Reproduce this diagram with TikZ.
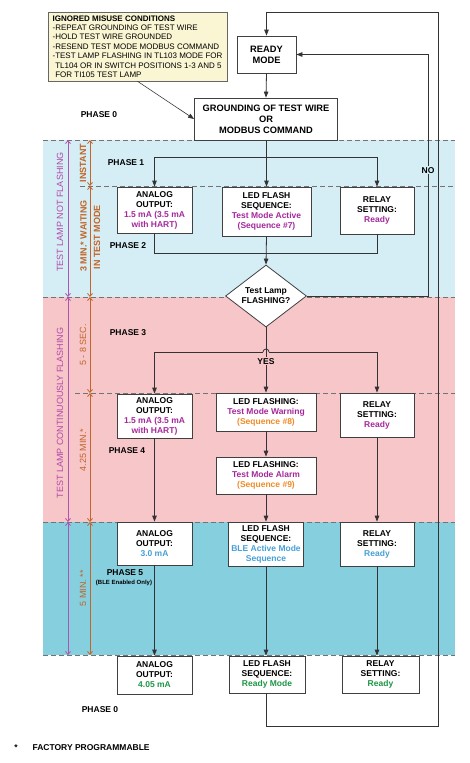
\documentclass[tikz,border=0pt]{standalone}
\usepackage{fontspec}
\setmainfont{Liberation Sans}
\usetikzlibrary{shapes.geometric, arrows.meta, positioning, shadows}

\definecolor{bandblue}{RGB}{213,237,244}
\definecolor{bandpink}{RGB}{247,198,200}
\definecolor{bandteal}{RGB}{134,207,222}
\definecolor{notefill}{RGB}{250,246,212}
\definecolor{magtext}{RGB}{165,40,155}
\definecolor{orgtext}{RGB}{240,140,40}
\definecolor{blutext}{RGB}{70,160,215}
\definecolor{grntext}{RGB}{30,150,70}
\definecolor{dimpurple}{RGB}{175,85,175}
\definecolor{dimorange}{RGB}{195,100,40}

\newcommand{\magtxt}[1]{\textcolor{magtext}{#1}}
\newcommand{\orgtxt}[1]{\textcolor{orgtext}{#1}}
\newcommand{\blutxt}[1]{\textcolor{blutext}{#1}}
\newcommand{\grntxt}[1]{\textcolor{grntext}{#1}}

\begin{document}
\begin{tikzpicture}[
    x=1pt, y=-1pt,
    box/.style={rectangle, draw=black!75, line width=0.8pt, fill=white, align=center, inner sep=1pt, font=\bfseries\fontsize{8.5}{10}\selectfont, drop shadow={shadow xshift=0.8pt, shadow yshift=-0.8pt, opacity=0.35}},
    box_big/.style={box, font=\bfseries\fontsize{9.3}{11}\selectfont},
    decision/.style={diamond, draw=black!75, line width=0.8pt, fill=white, align=center, inner sep=0pt, aspect=1.3, font=\bfseries\fontsize{8.5}{10}\selectfont},
    note/.style={rectangle, draw=black!60, line width=0.6pt, fill=notefill, align=left, inner sep=3pt, font=\fontsize{8}{9.4}\selectfont, drop shadow={shadow xshift=0.8pt, shadow yshift=-0.8pt, opacity=0.35}},
    phase/.style={font=\bfseries\fontsize{8.5}{10}\selectfont},
    link/.style={line width=0.8pt, draw=black!80},
    arrow/.style={link, -{Triangle[length=6pt,width=4.5pt]}},
    sep/.style={dash pattern=on 5pt off 3pt, line width=0.9pt, draw=black!55},
    dim_purple/.style={{Straight Barb[length=3pt,width=5pt]}-{Straight Barb[length=3pt,width=5pt]}, line width=0.8pt, draw=dimpurple},
    dim_orange/.style={dim_purple, draw=dimorange},
    dimtext/.style={rotate=90, font=\fontsize{9}{10}\selectfont}
  ]

  \useasboundingbox (0,0) rectangle (470,763);

  % Phase bands
  \fill[bandblue] (43,140) rectangle (455,297);
  \fill[bandpink] (43,297) rectangle (455,522);
  \fill[bandteal] (43,522) rectangle (455,655);

  % Phase boundaries
  \draw[sep] (43,140) -- (455,140);
  \draw[sep] (80,186) -- (455,186);
  \draw[sep] (43,297) -- (455,297);
  \draw[sep] (75,393) -- (455,393);
  \draw[sep] (43,522) -- (455,522);
  \draw[sep] (43,655) -- (455,655);

  % Durations
  \foreach \a/\b in {140/297, 297/522, 522/655} {
      \draw[dim_purple] (68,\a) -- (68,\b);
    }
  \foreach \a/\b in {140/186, 186/297, 297/393, 393/522, 522/655} {
      \draw[dim_orange] (90,\a) -- (90,\b);
    }
  \node[dimtext, text=magtext!85] (notflash) at (60,212) {TEST LAMP NOT FLASHING};
  \node[dimtext, text=magtext!85] (contflash) at (60,413) {TEST LAMP CONTINUOUSLY FLASHING};
  \node[dimtext, text=dimorange, font=\bfseries\fontsize{9}{10}\selectfont] (instant) at (83,163) {INSTANT};
  \node[dimtext, text=dimorange, font=\bfseries\fontsize{9}{10}\selectfont] (wait3) at (83.5,236) {3 MIN.* WAITING};
  \node[dimtext, text=dimorange, font=\bfseries\fontsize{9}{10}\selectfont] (testmode) at (97,237) {IN TEST MODE};
  \node[dimtext, text=dimorange] (sec58) at (83,345) {5 - 8 SEC.};
  \node[dimtext, text=dimorange] (min425) at (83,450) {4.25 MIN.*};
  \node[dimtext, text=dimorange] (min5) at (83,588) {5 MIN. **};

  % Note
  \node[note, minimum width=179pt, minimum height=69pt] (misuse) at (137.5,46.5) {
    \textbf{IGNORED MISUSE CONDITIONS}\\
    -REPEAT GROUNDING OF TEST WIRE\\
    -HOLD TEST WIRE GROUNDED\\
    -RESEND TEST MODE MODBUS COMMAND\\
    -TEST LAMP FLASHING IN TL103 MODE FOR\\
    \hphantom{-}TL104 OR IN SWITCH POSITIONS 1-3 AND 5\\
    \hphantom{-}FOR TI105 TEST LAMP
  };

  % Start
  \node[box_big, minimum width=59pt, minimum height=37pt] (ready) at (266.5,54.5) {READY\\MODE};
  \node[box_big, minimum width=143pt, minimum height=42pt] (ground) at (266,119) {GROUNDING OF TEST WIRE\\OR\\MODBUS COMMAND};

  % Phase 1 / 2
  \node[box, minimum width=75pt, minimum height=46pt] (ao1) at (154.5,210) {ANALOG\\OUTPUT:\\\magtxt{1.5 mA (3.5 mA}\\\magtxt{with HART)}};
  \node[box, minimum width=89pt, minimum height=49pt] (led1) at (266.5,211.5) {LED FLASH\\SEQUENCE:\\\magtxt{Test Mode Active}\\\magtxt{(Sequence \#7)}};
  \node[box, minimum width=74pt, minimum height=47pt] (relay1) at (377,210.5) {RELAY\\SETTING:\\\magtxt{Ready}};

  \node[decision, minimum width=81pt, minimum height=62pt] (lamp) at (266,296) {Test Lamp\\FLASHING?};

  % Phase 3 / 4
  \node[box, minimum width=75pt, minimum height=44pt] (ao2) at (154.5,416) {ANALOG\\OUTPUT:\\\magtxt{1.5 mA (3.5 mA}\\\magtxt{with HART)}};
  \node[box, minimum width=100pt, minimum height=38pt] (led2) at (266,412) {LED FLASHING:\\\magtxt{Test Mode Warning}\\\orgtxt{(Sequence \#8)}};
  \node[box, minimum width=74pt, minimum height=44pt] (relay2) at (377,415) {RELAY\\SETTING:\\\magtxt{Ready}};
  \node[box, minimum width=100pt, minimum height=37pt] (led2b) at (266,475.5) {LED FLASHING:\\\magtxt{Test Mode Alarm}\\\orgtxt{(Sequence \#9)}};

  % Phase 5
  \node[box, minimum width=75pt, minimum height=43pt] (ao3) at (154.5,543.5) {ANALOG\\OUTPUT:\\\blutxt{3.0 mA}};
  \node[box, minimum width=75pt, minimum height=44pt] (led3) at (266,544) {LED FLASH\\SEQUENCE:\\\blutxt{BLE Active Mode}\\\blutxt{Sequence}};
  \node[box, minimum width=74pt, minimum height=44pt] (relay3) at (377,544) {RELAY\\SETTING:\\\blutxt{Ready}};

  % Back to phase 0
  \node[box, minimum width=75pt, minimum height=38pt] (ao4) at (154.5,675) {ANALOG\\OUTPUT:\\\grntxt{4.05 mA}};
  \node[box, minimum width=76pt, minimum height=37pt] (led4) at (267,674.5) {LED FLASH\\SEQUENCE:\\\grntxt{Ready Mode}};
  \node[box, minimum width=77pt, minimum height=37pt] (relay4) at (380.5,674.5) {RELAY\\SETTING:\\\grntxt{Ready}};

  % Phase labels
  \node[phase] (ph0top) at (99,115) {PHASE 0};
  \node[phase] (ph1) at (126,163) {PHASE 1};
  \node[phase] (ph2) at (128,246) {PHASE 2};
  \node[phase] (ph3) at (128,333) {PHASE 3};
  \node[phase] (ph4) at (127,451) {PHASE 4};
  \node[phase] (ph5) at (125,573) {PHASE 5};
  \node[font=\bfseries\fontsize{6}{7}\selectfont] (ble) at (124,583) {(BLE Enabled Only)};
  \node[phase] (ph0bot) at (100,710) {PHASE 0};

  % Footnote
  \node[phase] (star) at (16,748) {*};
  \node[phase, anchor=west] (factory) at (29,748) {FACTORY PROGRAMMABLE};

  % Connectors
  \draw[arrow, line width=0.6pt] (misuse.south) -- (ground.west);
  \draw[arrow] (ready.south) -- (ground.north);

  \coordinate (split1) at (266,157);
  \draw[link] (ground.south) -- (split1);
  \foreach \b in {ao1, led1, relay1} {
      \draw[arrow] (split1) -| (\b.north);
    }

  \coordinate (merge1) at (266,253);
  \foreach \b in {ao1, relay1} {
      \draw[link] (\b.south) |- (merge1);
    }
  \draw[arrow] (led1.south) -- (lamp.north);

  % YES branch, with hop over the middle line
  \coordinate (hopL) at (263,352);
  \coordinate (hopR) at (269,352);
  \draw[arrow] (hopL) -| (ao2.north);
  \draw[arrow] (hopR) -| (relay2.north);
  \draw[link] (hopL) arc[start angle=180, end angle=0, radius=3pt];
  \draw[arrow] (lamp.south) -- node[pos=0.52, phase, fill=bandpink, inner sep=1pt] (yes) {YES} (led2.north);

  \draw[arrow] (led2.south) -- (led2b.north);
  \foreach \a/\b in {ao2/ao3, led2b/led3, relay2/relay3, ao3/ao4, led3/led4, relay3/relay4} {
      \draw[arrow] (\a.south) -- (\a.south |- \b.north);
    }

  % NO branch
  \coordinate (noRight) at (428,0);
  \draw[arrow] (lamp.east) -- (lamp.east -| noRight) -- node[pos=0.52, phase, fill=bandblue, inner sep=1pt] (no) {NO} (ready.east -| noRight) -- (ready.east);

  % Return loop
  \coordinate (loopBot) at (438,726);
  \coordinate (loopTop) at (438,12);
  \draw[arrow] (led4.south -| led3.south) |- (loopBot) -- (loopTop) -| (ready.north);

\end{tikzpicture}
\end{document}
